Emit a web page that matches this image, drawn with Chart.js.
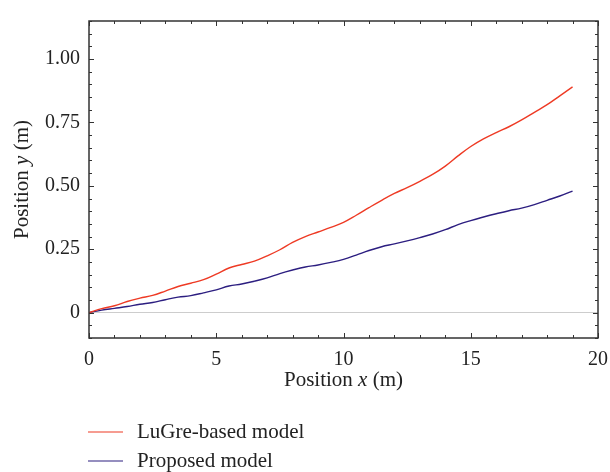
<!DOCTYPE html>
<html>
<head>
<meta charset="utf-8">
<script src="https://cdn.jsdelivr.net/npm/chart.js@4.4.1/dist/chart.umd.min.js"></script>
<style>
  html, body { margin: 0; padding: 0; background: #fff; }
  #wrap { width: 610px; height: 472px; }
</style>
</head>
<body>
<div id="wrap"><canvas id="posChart" width="610" height="472"></canvas></div>
<script>
// x positions (m)
const xs = [0, 0.5, 1, 1.5, 2, 2.5, 3, 3.5, 4, 4.5, 5, 5.5, 6, 6.5, 7, 7.5, 8, 8.5, 9, 9.5,
            10, 10.5, 11, 11.5, 12, 12.5, 13, 13.5, 14, 14.5, 15, 15.5, 16, 16.5, 17, 17.5, 18, 18.5, 19];
// y positions (m)
const lugre = [0, 0.016, 0.027, 0.044, 0.057, 0.068, 0.085, 0.103, 0.116, 0.13, 0.152, 0.176, 0.19, 0.203,
               0.224, 0.248, 0.277, 0.3, 0.318, 0.336, 0.356, 0.384, 0.414, 0.443, 0.47, 0.493, 0.518,
               0.545, 0.578, 0.618, 0.655, 0.685, 0.71, 0.733, 0.76, 0.79, 0.82, 0.855, 0.89];
const proposed = [0, 0.01, 0.017, 0.024, 0.033, 0.04, 0.051, 0.061, 0.067, 0.078, 0.09, 0.105, 0.113, 0.124,
                  0.137, 0.154, 0.168, 0.18, 0.188, 0.198, 0.21, 0.227, 0.245, 0.26, 0.271, 0.283, 0.296,
                  0.31, 0.327, 0.347, 0.363, 0.377, 0.39, 0.402, 0.412, 0.426, 0.443, 0.46, 0.479];
const seriesNames = ['LuGre-based model', 'Proposed model'];
const xTickLabels = ['0', '5', '10', '15', '20'];
const yTickLabels = ['0', '0.25', '0.50', '0.75', '1.00'];

const FONT = '"Liberation Serif", "DejaVu Serif", serif';
const AXIS = '#333';
const TEXT_SIZE = 21;

// inward ticks, frame, axis titles and legend
const decor = {
  id: 'decor',
  afterDraw(chart) {
    const { ctx, chartArea: a, scales: { x, y } } = chart;
    ctx.save();
    ctx.strokeStyle = AXIS;
    ctx.lineWidth = 1;
    for (let v = 0; v <= 20; v++) {
      const px = Math.round(x.getPixelForValue(v)) + 0.5;
      const len = v % 5 === 0 ? 5 : 3;
      ctx.beginPath();
      ctx.moveTo(px, a.bottom); ctx.lineTo(px, a.bottom - len);
      ctx.moveTo(px, a.top); ctx.lineTo(px, a.top + len);
      ctx.stroke();
    }
    for (let k = -2; k <= 23; k++) {
      const py = Math.round(y.getPixelForValue(k * 0.05)) + 0.5;
      const len = k % 5 === 0 ? 5 : 3;
      ctx.beginPath();
      ctx.moveTo(a.left, py); ctx.lineTo(a.left + len, py);
      ctx.moveTo(a.right, py); ctx.lineTo(a.right - len, py);
      ctx.stroke();
    }
    ctx.lineWidth = 1.5;
    ctx.strokeRect(a.left, a.top, a.right - a.left, a.bottom - a.top);

    // axis titles with italic variable
    ctx.fillStyle = '#222';
    ctx.textBaseline = 'middle';
    function mixed(parts, cx, cy) {
      let w = 0;
      parts.forEach(p => { ctx.font = (p[1] ? 'italic ' : '') + TEXT_SIZE + 'px ' + FONT; w += ctx.measureText(p[0]).width; });
      let cur = cx - w / 2;
      ctx.textAlign = 'left';
      parts.forEach(p => {
        ctx.font = (p[1] ? 'italic ' : '') + TEXT_SIZE + 'px ' + FONT;
        ctx.fillText(p[0], cur, cy);
        cur += ctx.measureText(p[0]).width;
      });
    }
    mixed([['Position ', false], ['x', true], [' (m)', false]], (a.left + a.right) / 2, 380);
    ctx.save();
    ctx.translate(22, (a.top + a.bottom) / 2);
    ctx.rotate(-Math.PI / 2);
    mixed([['Position ', false], ['y', true], [' (m)', false]], 0, 0);
    ctx.restore();

    // legend
    chart.data.datasets.forEach((ds, i) => {
      const ly = 432 + i * 29;
      ctx.strokeStyle = ds.borderColor;
      ctx.lineWidth = 1.2;
      ctx.beginPath();
      ctx.moveTo(88, ly); ctx.lineTo(123, ly);
      ctx.stroke();
      ctx.font = TEXT_SIZE + 'px ' + FONT;
      ctx.textAlign = 'left';
      ctx.fillStyle = '#222';
      ctx.fillText(ds.label, 137, ly);
    });
    ctx.restore();
  }
};

new Chart(document.getElementById('posChart'), {
  type: 'line',
  data: {
    datasets: [
      { label: seriesNames[0], data: xs.map((v, i) => ({ x: v, y: lugre[i] })),
        borderColor: 'rgb(238, 58, 36)', borderWidth: 1.4, pointRadius: 0, tension: 0.4, fill: false },
      { label: seriesNames[1], data: xs.map((v, i) => ({ x: v, y: proposed[i] })),
        borderColor: 'rgb(44, 30, 128)', borderWidth: 1.4, pointRadius: 0, tension: 0.4, fill: false }
    ]
  },
  options: {
    responsive: false,
    animation: false,
    layout: { padding: { top: 15, right: 0, left: 0, bottom: 0 } },
    plugins: { legend: { display: false }, tooltip: { enabled: false } },
    scales: {
      x: {
        type: 'linear', min: 0, max: 20,
        afterFit: s => { s.height = 134; },
        grid: { display: false },
        border: { display: false },
        ticks: {
          stepSize: 5, padding: 2, color: '#222', maxRotation: 0, autoSkip: false,
          font: { family: FONT, size: 20 },
          callback: v => xTickLabels[xTickLabels.indexOf(String(v))] ?? ''
        }
      },
      y: {
        type: 'linear', min: -0.1, max: 1.15,
        afterFit: s => { s.width = 89; },
        grid: {
          drawTicks: false,
          color: c => (c.tick && Math.abs(c.tick.value) < 1e-9 ? 'rgb(205,205,205)' : 'rgba(0,0,0,0)'),
          lineWidth: 1
        },
        border: { display: false },
        ticks: {
          stepSize: 0.05, padding: 9, color: '#222', autoSkip: false,
          font: { family: FONT, size: 20 },
          callback: v => {
            const k = Math.round(v * 100);
            if (k < 0 || k % 25 !== 0) return '';
            return yTickLabels[k / 25] ?? '';
          }
        }
      }
    }
  },
  plugins: [decor]
});
</script>
</body>
</html>
